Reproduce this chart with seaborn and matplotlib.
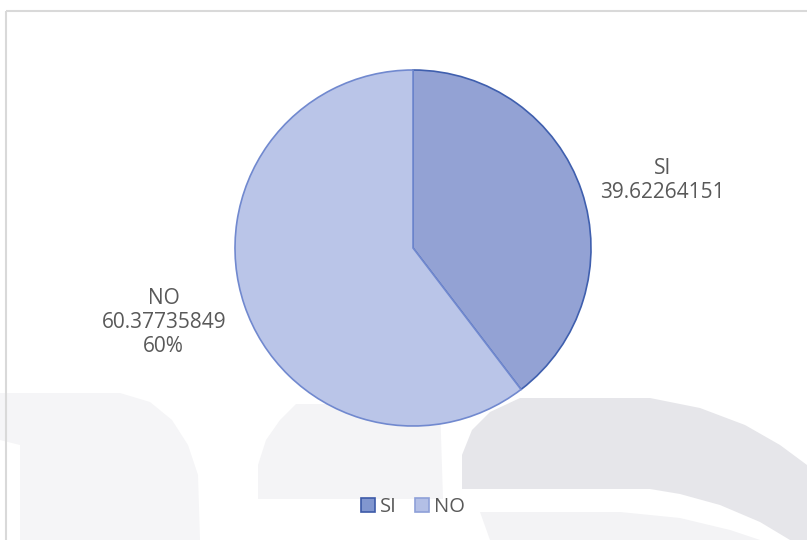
import matplotlib
matplotlib.use("Agg")
import matplotlib.pyplot as plt
import seaborn as sns
from matplotlib.patches import Rectangle, Patch, Polygon
from matplotlib.transforms import Affine2D

categories = ["SI", "NO"]
values = [39.62264151, 60.37735849]
label_texts = ["SI\n39.62264151", "NO\n60.37735849\n60%"]

sns.set_theme(style="white")
plt.rcParams["font.family"] = ["Open Sans", "DejaVu Sans"]

fill_colors = ["#93a2d4", "#bac5e8"]
edge_colors = ["#3f5fae", "#7189cf"]
text_color = "#595959"

W, H = 807, 540
fig = plt.figure(figsize=(W / 100, H / 100), dpi=100)
fig.patch.set_facecolor("white")

# pixel transform (origin top-left) for background decoration
pix = Affine2D().scale(1 / W, -1 / H).translate(0, 1) + fig.transFigure

# faint watermark shapes in the background
bg_shapes = [
    ([(0, 393), (120, 393), (150, 402), (172, 420), (188, 445), (198, 475), (200, 540),
      (20, 540), (20, 445), (0, 440)], "#f5f5f7"),
    ([(258, 499), (258, 465), (266, 440), (280, 420), (296, 404), (440, 404), (443, 499)], "#f4f4f6"),
    ([(462, 489), (462, 455), (472, 430), (490, 412), (520, 398), (650, 398), (700, 408),
      (745, 425), (780, 445), (807, 465), (807, 540), (790, 540), (760, 522), (720, 505),
      (680, 494), (650, 489)], "#e6e6ea"),
    ([(480, 512), (620, 512), (680, 518), (730, 530), (760, 540), (490, 540)], "#f3f3f5"),
]
for pts, col in bg_shapes:
    fig.add_artist(Polygon(pts, closed=True, transform=pix, facecolor=col,
                           edgecolor="none", zorder=0))

# chart frame
fig.add_artist(Rectangle((6, 11), 900, 600, transform=pix, fill=False,
                         edgecolor="#d9d9d9", linewidth=1.5, zorder=0.5))

cx, cy, r = 413, 248, 178
ax = fig.add_axes([(cx - r) / W, (H - cy - r) / H, 2 * r / W, 2 * r / H])
ax.patch.set_alpha(0)

wedges, _ = ax.pie(values, colors=fill_colors, startangle=90, counterclock=False,
                   radius=1, wedgeprops=dict(linewidth=1.2))
for w, ec in zip(wedges, edge_colors):
    w.set_edgecolor(ec)
ax.set_xlim(-1, 1)
ax.set_ylim(-1, 1)
ax.set_aspect("equal")
ax.axis("off")

label_pos = [(1.40, 0.38), (-1.40, -0.42)]
for (x, y), t in zip(label_pos, label_texts):
    ax.text(x, y, t, ha="center", va="center", fontsize=15, color=text_color,
            linespacing=1.2, clip_on=False)

handles = [Patch(facecolor="#8196cf", edgecolor="#3d5aa8", linewidth=1.2),
           Patch(facecolor="#b3bfe6", edgecolor="#8ea0d8", linewidth=1.2)]
leg = fig.legend(handles, categories, loc="center", bbox_to_anchor=(413 / W, 1 - 507 / H),
                 ncol=2, frameon=False, fontsize=14.5, handlelength=0.7, handleheight=0.7,
                 handletextpad=0.25, columnspacing=0.9, labelcolor=text_color)

fig.savefig("out.png", dpi=100)
